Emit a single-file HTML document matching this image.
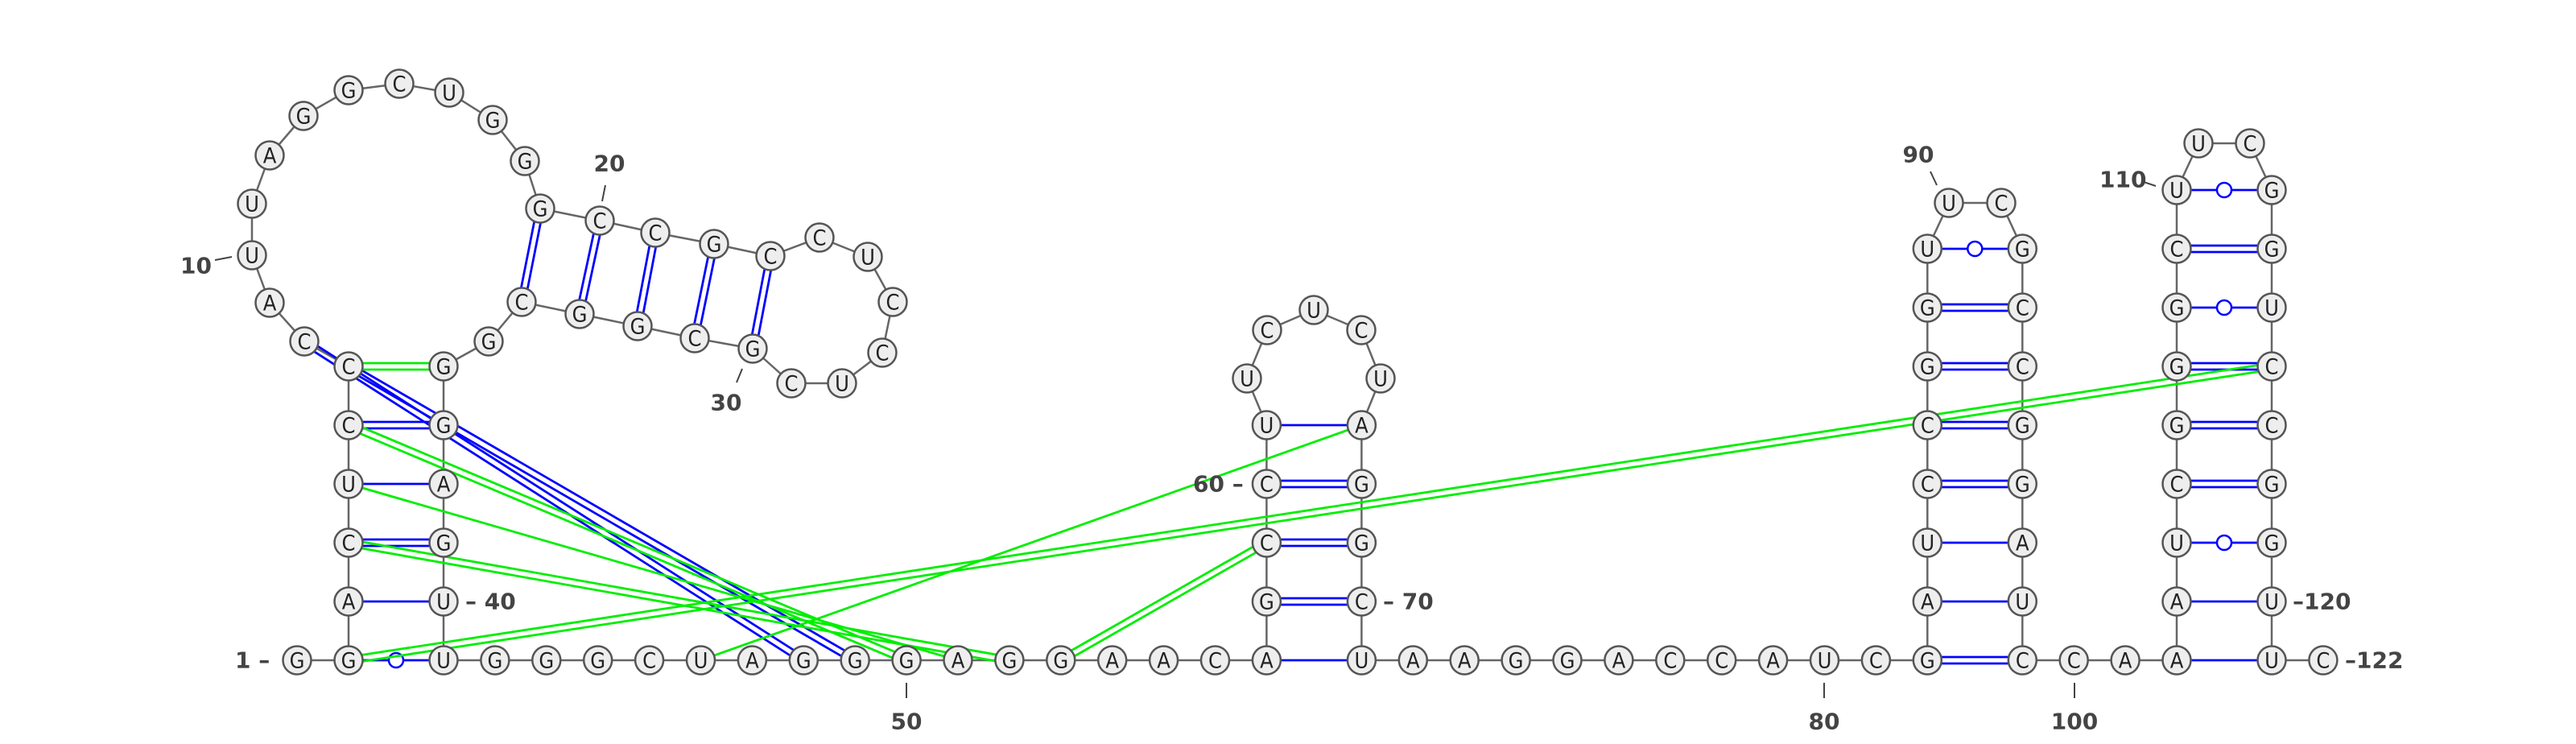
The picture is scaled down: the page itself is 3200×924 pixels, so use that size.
<!DOCTYPE html>
<html><head><meta charset="utf-8"><style>
html,body{margin:0;padding:0;background:#fff;}
svg{display:block;}
.nt{font-family:"DejaVu Sans","Liberation Sans",sans-serif;font-size:27px;font-stretch:condensed;fill:#222;text-anchor:middle;dominant-baseline:central;}
.lbl{font-family:"DejaVu Sans","Liberation Sans",sans-serif;font-size:28px;font-weight:bold;fill:#444;dominant-baseline:central;}
</style></head><body>
<svg id="rna" width="3200" height="924" viewBox="0 0 3200 924" xmlns="http://www.w3.org/2000/svg">
<g id="backbone"></g>
<g id="pairs"></g>
<g id="nts"></g>
<g id="labels"></g>
</svg>
<script>
const sequence = "GGACUCCCAUUAGGCUGGGCCGCCUCCUCGCGGCGGGAGUUGGGCUAGGGAGGAACAGCCUUCUCUAGGCUAAGGACCAUCGAUCCGGUUCGCCGGAUCCAAAUCGGGCUUCGGUCCGGUUC";
const loopCoords = {8:[378,424],9:[335,376],10:[313,317],11:[313,253],12:[335,193],13:[377,144],14:[433,112],15:[496,104],16:[558,115],17:[612,149],18:[652,200],19:[671,259],20:[745,274],21:[814,289],22:[887,303],23:[957,318],24:[1018,295],25:[1078,319],26:[1109,375],27:[1096,438],28:[1046,476],29:[983,476],30:[935,433],31:[863,420],32:[792,405],33:[720,390],34:[648,375],35:[607,424],62:[1549,470],63:[1574,410],64:[1632,385],65:[1691,410],66:[1715,470],90:[2421,252],91:[2486,252],111:[2731,178],112:[2795,178]};
const bluePairs = [[2,41],[3,40],[4,39],[5,38],[6,37],[19,34],[20,33],[21,32],[22,31],[23,30],[8,48],[7,49],[57,71],[58,70],[59,69],[60,68],[61,67],[82,99],[83,98],[84,97],[85,96],[86,95],[87,94],[88,93],[89,92],[102,121],[103,120],[104,119],[105,118],[106,117],[107,116],[108,115],[109,114],[110,113]];
const greenPairs = [[7,36],[6,50],[5,51],[4,52],[2,116],[46,67],[53,59]];
const numberLabels = [
 {t:"1 –",x:292,y:820,a:"start"},{t:"10",x:224,y:330,a:"start",tk:[267,323,288,319]},
 {t:"20",x:757,y:203,a:"middle",tk:[752,230,748,250]},{t:"30",x:902,y:500,a:"middle",tk:[922,458,915,475]},
 {t:"– 40",x:578,y:747,a:"start"},{t:"50",x:1126,y:896,a:"middle",tk:[1126,848,1126,867]},
 {t:"60 –",x:1482,y:601,a:"start"},{t:"– 70",x:1718,y:747,a:"start"},
 {t:"80",x:2266,y:896,a:"middle",tk:[2266,848,2266,867]},{t:"90",x:2383,y:192,a:"middle",tk:[2398,213,2406,230]},
 {t:"100",x:2577,y:896,a:"middle",tk:[2577,848,2577,867]},{t:"110",x:2608,y:223,a:"start",tk:[2663,226,2678,231]},
 {t:"–120",x:2848,y:747,a:"start"},{t:"–122",x:2913,y:820,a:"start"}];

const NS="http://www.w3.org/2000/svg";
const BASE=820, STEP=63.9, ROW=73;
const pos={};
pos[1]=[369,BASE];pos[2]=[433,BASE];
for(let i=3;i<=7;i++)pos[i]=[433,BASE-(i-2)*ROW];
for(let i=36;i<=40;i++)pos[i]=[551,BASE-(41-i)*ROW];
for(let i=41;i<=57;i++)pos[i]=[551+(i-41)*STEP,BASE];
for(let i=58;i<=61;i++)pos[i]=[pos[57][0],BASE-(i-57)*ROW];
for(let i=67;i<=70;i++)pos[i]=[pos[57][0]+118,BASE-(71-i)*ROW];
for(let i=71;i<=82;i++)pos[i]=[pos[57][0]+118+(i-71)*STEP,BASE];
for(let i=83;i<=89;i++)pos[i]=[pos[82][0],BASE-(i-82)*ROW];
for(let i=92;i<=98;i++)pos[i]=[pos[82][0]+118,BASE-(99-i)*ROW];
for(let i=99;i<=102;i++)pos[i]=[pos[82][0]+118+(i-99)*STEP,BASE];
for(let i=103;i<=110;i++)pos[i]=[pos[102][0],BASE-(i-102)*ROW];
for(let i=113;i<=120;i++)pos[i]=[pos[102][0]+118,BASE-(121-i)*ROW];
pos[121]=[pos[102][0]+118,BASE];pos[122]=[pos[121][0]+STEP,BASE];
for(const k in loopCoords)pos[k]=loopCoords[k];

function mk(tag,attrs,parent){const e=document.createElementNS(NS,tag);for(const k in attrs)e.setAttribute(k,attrs[k]);parent.appendChild(e);return e;}
const bb=document.getElementById('backbone');
for(let i=1;i<sequence.length;i++){
  const a=pos[i],b=pos[i+1];
  const l=mk('line',{x1:a[0],y1:a[1],x2:b[0],y2:b[1],stroke:'#666','stroke-width':2.5},bb);
  
  
}
const pg=document.getElementById('pairs');
function drawPair(p,col){
  const i=p[0],j=p[1],a=pos[i],b=pos[j];
  const s=sequence[i-1]+sequence[j-1];
  const dx=b[0]-a[0],dy=b[1]-a[1],L=Math.hypot(dx,dy),nx=-dy/L,ny=dx/L;
  const g=mk('g',{},pg);
  
  
  if(s==='GC'||s==='CG'){
    for(const o of [-4,4])mk('line',{x1:a[0]+nx*o,y1:a[1]+ny*o,x2:b[0]+nx*o,y2:b[1]+ny*o,stroke:col,'stroke-width':2.8},g);
  }else if(s==='GU'||s==='UG'){
    mk('line',{x1:a[0],y1:a[1],x2:b[0],y2:b[1],stroke:col,'stroke-width':2.8},g);
    mk('circle',{cx:(a[0]+b[0])/2,cy:(a[1]+b[1])/2,r:9,fill:'#fff',stroke:col,'stroke-width':2.5},g);
  }else{
    mk('line',{x1:a[0],y1:a[1],x2:b[0],y2:b[1],stroke:col,'stroke-width':2.8},g);
  }
}
bluePairs.forEach(p=>drawPair(p,'#0000ff'));
greenPairs.forEach(p=>drawPair(p,'#00ee00'));
const ng=document.getElementById('nts');
for(let i=1;i<=sequence.length;i++){
  const p=pos[i];
  const g=mk('g',{},ng);
  
  
  mk('circle',{cx:p[0],cy:p[1],r:17.5,fill:'#eeeeee',stroke:'#555','stroke-width':2.5},g);
  const t=mk('text',{x:p[0],y:p[1]+1,'class':'nt'},g);
  t.textContent=sequence[i-1];
}
const lg=document.getElementById('labels');
numberLabels.forEach(L=>{
  const t=mk('text',{x:L.x,y:L.y,'class':'lbl','text-anchor':L.a},lg);
  
  
  t.textContent=L.t;
  if(L.tk){const k=mk('line',{x1:L.tk[0],y1:L.tk[1],x2:L.tk[2],y2:L.tk[3],stroke:'#444','stroke-width':2},lg);
    
    }
});
</script>
</body></html>
